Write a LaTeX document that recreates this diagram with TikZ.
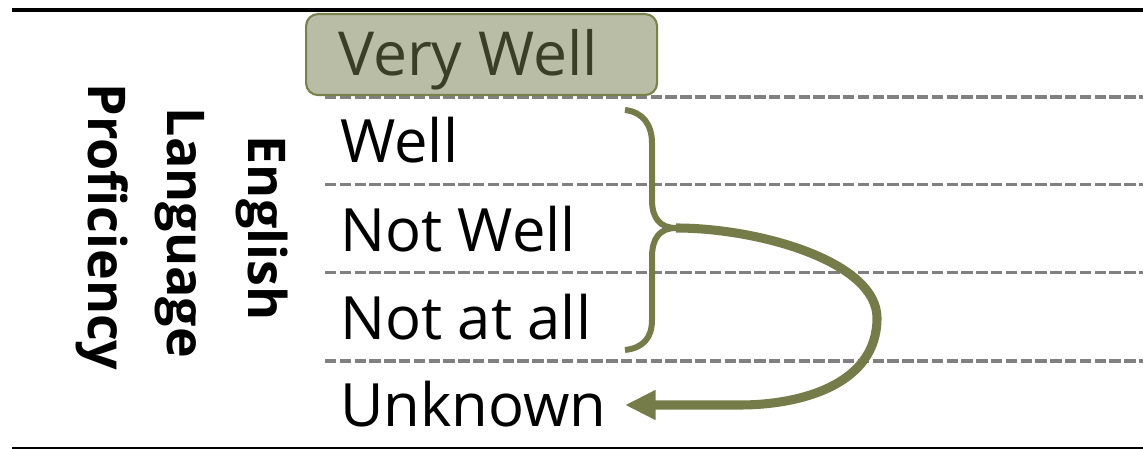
\documentclass[tikz,border=0pt]{standalone}
\usepackage{fontspec}
\setmainfont{Open Sans}
\usetikzlibrary{arrows.meta}
\definecolor{boxfill}{HTML}{B9BDA5}
\definecolor{boxline}{HTML}{7A804E}
\definecolor{boxtext}{HTML}{3A3E26}
\definecolor{olive}{HTML}{767C49}
\definecolor{rulegray}{HTML}{808080}
\tikzset{
  rowlabel/.style={anchor=base west, inner sep=0pt, font=\fontsize{44.8pt}{50pt}\selectfont, text=black},
  axislabel/.style={rotate=-90, anchor=base, inner sep=0pt, font=\bfseries\fontsize{39pt}{42pt}\selectfont},
  rowrule/.style={draw=rulegray, line width=2.9pt, dash pattern=on 8.5pt off 2.6pt},
  bracestyle/.style={draw=olive, line width=4.5pt},
  arrowstyle/.style={draw=olive, line width=6.8pt, -{Triangle[length=23pt, width=21pt]}}
}
\begin{document}
\begin{tikzpicture}[x=0.75pt, y=-0.75pt]
\useasboundingbox (0,0) rectangle (1143,449);
% top and bottom rules
\draw[line width=3pt] (12,10) -- (1143,10);
\draw[line width=1.5pt] (12,447.5) -- (1143,447.5);
% row separators
\foreach \yy in {97,184.5,272.5,361}{
  \draw[rowrule] (325,\yy) -- (1143,\yy);
}
% highlighted box
\node[draw=boxline, fill=boxfill, line width=1.6pt, rounded corners=9pt, minimum width=351*0.75pt, minimum height=81*0.75pt, inner sep=0pt, anchor=north west] (vwbox) at (305,13) {};
\node[rowlabel, text=boxtext, font=\fontsize{45.5pt}{50pt}\selectfont] (vw) at (338,75.5) {Very Well};
% row labels
\node[rowlabel] (well) at (340,163) {Well};
\node[rowlabel] (notwell) at (340,252) {Not Well};
\node[rowlabel] (notatall) at (340,339) {Not at all};
\node[rowlabel] (unknown) at (340,426) {Unknown};
% axis label
\node[axislabel] (eng) at (248,228) {English};
\node[axislabel] (lang) at (167,233) {Language};
\node[axislabel] (prof) at (88,227) {Proficiency};
% brace
\coordinate (btop) at (625,110);
\coordinate (bbot) at (625,350);
\coordinate (tip) at (676,228);
\draw[bracestyle] (btop) .. controls (643,112) and (652,125) .. (652,143) -- (652,200)
  .. controls (652,218) and (660,228) .. (tip)
  .. controls (660,228) and (652,238) .. (652,257) -- (652,320)
  .. controls (652,338) and (643,348) .. (bbot);
% arrow
\coordinate (aend) at (625,405);
\draw[arrowstyle] (tip) .. controls (760,228) and (877,262) .. (877,318)
  .. controls (877,385) and (800,405) .. (740,405) -- (aend);
\end{tikzpicture}
\end{document}
